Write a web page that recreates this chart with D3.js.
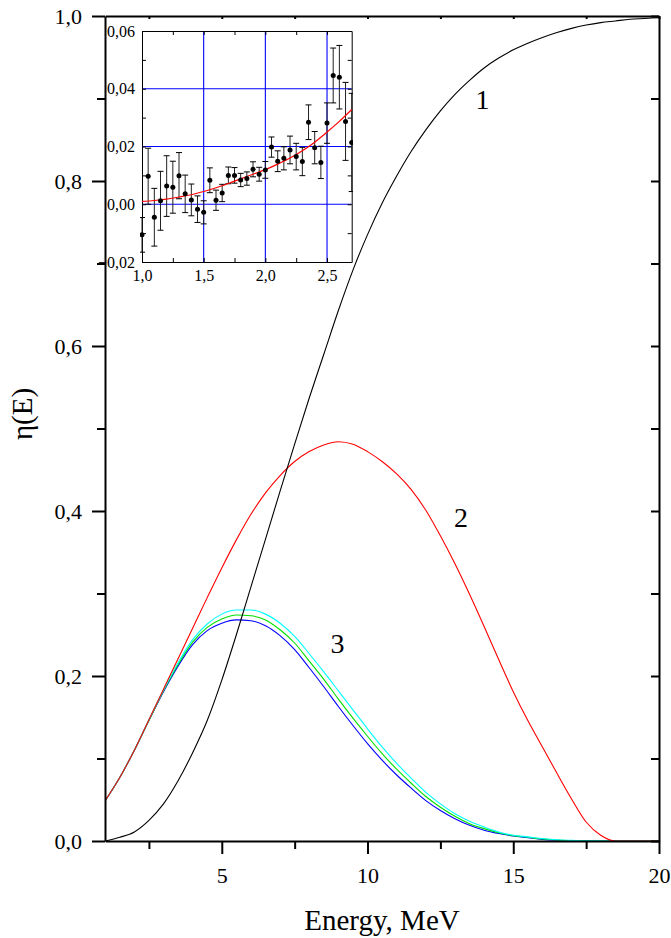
<!DOCTYPE html>
<html>
<head>
<meta charset="utf-8">
<script src="https://cdn.jsdelivr.net/npm/d3@7"></script>
<style>
  body { margin: 0; background: #fff; }
  text { font-family: "Liberation Serif", "Times New Roman", serif; fill: #000; }
</style>
</head>
<body>
<script>
// main chart data
var energy = [1, 1.5, 2, 2.5, 3, 3.5, 4, 4.5, 5, 5.5, 6, 6.5, 7, 7.5, 8, 8.5, 9, 9.5, 10, 10.5,
              11, 11.5, 12, 12.5, 13, 13.5, 14, 14.5, 15, 15.5, 16, 16.5, 17, 17.5, 18, 18.5, 19, 19.5, 20];
var curve1 = [0.000, 0.0045, 0.011, 0.025, 0.045, 0.073, 0.107, 0.146, 0.195, 0.250, 0.308, 0.366, 0.424, 0.481,
              0.537, 0.590, 0.643, 0.692, 0.735, 0.773, 0.806, 0.836, 0.862, 0.885, 0.905, 0.922, 0.937, 0.949,
              0.959, 0.967, 0.974, 0.980, 0.985, 0.989, 0.992, 0.994, 0.996, 0.997, 0.998];
var curve2 = [0.049, 0.077, 0.110, 0.147, 0.184, 0.221, 0.258, 0.295, 0.331, 0.365, 0.396, 0.422, 0.443, 0.460,
              0.472, 0.480, 0.484, 0.481, 0.472, 0.460, 0.445, 0.426, 0.401, 0.370, 0.336, 0.299, 0.260, 0.220,
              0.181, 0.146, 0.114, 0.082, 0.051, 0.023, 0.007, 0.000, 0.000, 0.000, 0.000];
var curve3blue = [0.049, 0.077, 0.110, 0.146, 0.181, 0.212, 0.238, 0.255, 0.264, 0.268, 0.267, 0.261, 0.249, 0.232,
              0.210, 0.187, 0.163, 0.140, 0.118, 0.098, 0.080, 0.064, 0.049, 0.037, 0.027, 0.019, 0.013, 0.009,
              0.006, 0.004, 0.002, 0.001, 0.0005, 0.0002, 0, 0, 0, 0, 0];
var curve3green = [0.049, 0.077, 0.110, 0.146, 0.182, 0.214, 0.241, 0.259, 0.269, 0.274, 0.273, 0.268, 0.256, 0.240,
              0.218, 0.196, 0.172, 0.149, 0.127, 0.106, 0.087, 0.070, 0.054, 0.041, 0.030, 0.021, 0.015, 0.010,
              0.0065, 0.0045, 0.0025, 0.0012, 0.0006, 0.0002, 0, 0, 0, 0, 0];
var curve3cyan = [0.049, 0.077, 0.110, 0.147, 0.183, 0.216, 0.244, 0.263, 0.275, 0.280, 0.280, 0.275, 0.264, 0.248,
              0.227, 0.205, 0.182, 0.159, 0.136, 0.114, 0.094, 0.076, 0.059, 0.045, 0.033, 0.024, 0.017, 0.011,
              0.007, 0.005, 0.003, 0.0015, 0.0007, 0.0003, 0, 0, 0, 0, 0];
var xTicks = [5, 10, 15, 20];
var yTicks = [0, 0.2, 0.4, 0.6, 0.8, 1.0];

// inset data
var ptE   = [1.00, 1.05, 1.10, 1.15, 1.20, 1.25, 1.30, 1.35, 1.40, 1.45, 1.50, 1.55, 1.60, 1.65, 1.70, 1.75, 1.80, 1.85,
             1.90, 1.95, 2.00, 2.05, 2.10, 2.15, 2.20, 2.25, 2.30, 2.35, 2.40, 2.45, 2.50, 2.55, 2.60, 2.65, 2.70];
var ptVal = [-0.0106, 0.0097, -0.0045, 0.0012, 0.0063, 0.0059, 0.0099, 0.0036, 0.0015, -0.0017, -0.0028, 0.0083,
             0.0014, 0.0039, 0.0100, 0.0100, 0.0084, 0.0089, 0.0121, 0.0104, 0.0119, 0.0198, 0.0149, 0.0159, 0.0188,
             0.0165, 0.0148, 0.0284, 0.0196, 0.0145, 0.0281, 0.0446, 0.0440, 0.0287, 0.0214];
var ptErr = [0.006, 0.0097, 0.010, 0.0102, 0.0105, 0.009, 0.008, 0.0065, 0.0055, 0.0046, 0.004, 0.0043, 0.0035,
             0.003, 0.0029, 0.0027, 0.0023, 0.0023, 0.0026, 0.0024, 0.0029, 0.0035, 0.0036, 0.004, 0.0048, 0.0046,
             0.0049, 0.006, 0.0056, 0.0056, 0.007, 0.0095, 0.011, 0.0135, 0.017];
var fitE   = [1.0, 1.1, 1.2, 1.3, 1.4, 1.5, 1.6, 1.7, 1.8, 1.9, 2.0, 2.1, 2.2, 2.3, 2.4, 2.5, 2.6, 2.7];
var fitVal = [0.0010, 0.0013, 0.0018, 0.0025, 0.0033, 0.0044, 0.0057, 0.0072, 0.0088, 0.0104, 0.0120, 0.0139,
              0.0160, 0.0185, 0.0215, 0.0250, 0.0287, 0.0328];
var insetXTicks = [1.0, 1.5, 2.0, 2.5];
var insetYTicks = [-0.02, 0.00, 0.02, 0.04, 0.06];

var serif = "'Liberation Serif', 'Times New Roman', serif";
var comma = function(f) { return function(d) { return f(d).replace(".", ","); }; };

var svg = d3.select("body").append("svg")
    .attr("width", 671)
    .attr("height", 938);

var x = d3.scaleLinear().domain([1, 20]).range([105.2, 659]);
var y = d3.scaleLinear().domain([0, 1]).range([841, 16]);

svg.append("clipPath").attr("id", "plotclip")
  .append("rect").attr("x", 105).attr("y", 10).attr("width", 555).attr("height", 832);

// curves
var line = d3.line()
    .x(function(d) { return x(d[0]); })
    .y(function(d) { return y(d[1]); })
    .curve(d3.curveMonotoneX);

var curves = [
  { v: curve3blue, c: "#0000ff" },
  { v: curve3green, c: "#00e000" },
  { v: curve3cyan, c: "#00ffff" },
  { v: curve2, c: "#ff0000" },
  { v: curve1, c: "#000000" }
];
var gc = svg.append("g").attr("clip-path", "url(#plotclip)");
curves.forEach(function(s) {
  gc.append("path")
    .datum(d3.zip(energy, s.v))
    .attr("d", line)
    .attr("fill", "none")
    .attr("stroke", s.c)
    .attr("stroke-width", 1.1);
});

// axes
function styleAxis(g, w) {
  g.attr("font-family", serif);
  g.selectAll("path").attr("stroke-width", w);
  g.selectAll("line").attr("stroke-width", w);
  g.selectAll("text").style("font-family", serif);
}
var minorY = [0.1, 0.3, 0.5, 0.7, 0.9];
var minorX = [2.5, 7.5, 12.5, 17.5];

var gl = svg.append("g").attr("transform", "translate(105,0)")
  .call(d3.axisLeft(y).tickValues(yTicks).tickSize(13).tickSizeOuter(0).tickPadding(10).tickFormat(comma(d3.format(".1f"))));
gl.call(styleAxis, 2);
gl.selectAll("text").style("font-size", "22px");
svg.append("g").attr("transform", "translate(105,0)")
  .call(d3.axisLeft(y).tickValues(minorY).tickSize(8).tickFormat(""))
  .call(styleAxis, 2).select(".domain").remove();

var gb = svg.append("g").attr("transform", "translate(0,841)")
  .call(d3.axisBottom(x).tickValues(xTicks).tickSize(13).tickSizeOuter(0).tickPadding(13).tickFormat(d3.format("d")));
gb.call(styleAxis, 2);
gb.selectAll("text").style("font-size", "22px");
svg.append("g").attr("transform", "translate(0,841)")
  .call(d3.axisBottom(x).tickValues(minorX).tickSize(8).tickFormat(""))
  .call(styleAxis, 2).select(".domain").remove();

// right and top (inward ticks)
svg.append("g").attr("transform", "translate(659,0)")
  .call(d3.axisRight(y).tickValues(yTicks.concat(minorY)).tickSize(-8).tickSizeOuter(0).tickFormat(""))
  .call(styleAxis, 2);
svg.append("g").attr("transform", "translate(0,16)")
  .call(d3.axisTop(x).tickValues(xTicks.concat(minorX)).tickSize(-3).tickSizeOuter(0).tickFormat(""))
  .call(styleAxis, 2);

// curve labels
svg.append("text").attr("x", 482.5).attr("y", 109).attr("text-anchor", "middle").style("font-size", "28px").text("1");
svg.append("text").attr("x", 461).attr("y", 527).attr("text-anchor", "middle").style("font-size", "28px").text("2");
svg.append("text").attr("x", 337.5).attr("y", 653).attr("text-anchor", "middle").style("font-size", "28px").text("3");

// axis titles
svg.append("text").attr("x", 382).attr("y", 930).attr("text-anchor", "middle").style("font-size", "29px").text("Energy, MeV");
svg.append("text").attr("transform", "translate(31.5,414) rotate(-90)").attr("text-anchor", "middle")
  .style("font-size", "29px").text("η(E)");

// ---- inset ----
var xi = d3.scaleLinear().domain([1.0, 2.7]).range([142, 351.7]);
var yi = d3.scaleLinear().domain([-0.02, 0.06]).range([262, 31]);

svg.append("rect").attr("x", 142).attr("y", 31).attr("width", 209.7).attr("height", 231).attr("fill", "#fff");
svg.append("clipPath").attr("id", "insetclip")
  .append("rect").attr("x", 140).attr("y", 31).attr("width", 213).attr("height", 231);

var ins = svg.append("g");
// grid
ins.selectAll(".gx").data([1.5, 2.0, 2.5]).enter().append("line")
  .attr("x1", function(d) { return xi(d); }).attr("x2", function(d) { return xi(d); })
  .attr("y1", 31).attr("y2", 262).attr("stroke", "#0000ff").attr("stroke-width", 1.1);
ins.selectAll(".gy").data([0.00, 0.02, 0.04]).enter().append("line")
  .attr("y1", function(d) { return yi(d); }).attr("y2", function(d) { return yi(d); })
  .attr("x1", 142).attr("x2", 351.7).attr("stroke", "#0000ff").attr("stroke-width", 1.1);

var minorXi = [1.25, 1.75, 2.25];
var minorYi = [-0.01, 0.01, 0.03, 0.05];
var gil = ins.append("g").attr("transform", "translate(142,0)")
  .call(d3.axisLeft(yi).tickValues(insetYTicks.concat(minorYi)).tickSize(-4).tickSizeOuter(0).tickPadding(7)
    .tickFormat(function(d) { return insetYTicks.indexOf(d) >= 0 ? comma(d3.format(".2f"))(d) : ""; }))
  .call(styleAxis, 1);
gil.selectAll("text").style("font-size", "16px");
var gib = ins.append("g").attr("transform", "translate(0,262)")
  .call(d3.axisBottom(xi).tickValues(insetXTicks.concat(minorXi)).tickSize(-4).tickSizeOuter(0).tickPadding(8)
    .tickFormat(function(d) { return insetXTicks.indexOf(d) >= 0 ? comma(d3.format(".1f"))(d) : ""; }))
  .call(styleAxis, 1);
gib.selectAll("text").style("font-size", "16px");
ins.append("g").attr("transform", "translate(351.7,0)")
  .call(d3.axisRight(yi).tickValues(insetYTicks.concat(minorYi)).tickSize(-4).tickSizeOuter(0).tickFormat(""));
ins.append("g").attr("transform", "translate(0,31)")
  .call(d3.axisTop(xi).tickValues(insetXTicks.concat(minorXi)).tickSize(-4).tickSizeOuter(0).tickFormat(""));

var gd = ins.append("g").attr("clip-path", "url(#insetclip)");
var pts = d3.range(ptE.length).map(function(i) { return { e: ptE[i], v: ptVal[i], s: ptErr[i] }; });
gd.selectAll(".eb").data(pts).enter().append("line")
  .attr("x1", function(d) { return xi(d.e); }).attr("x2", function(d) { return xi(d.e); })
  .attr("y1", function(d) { return yi(d.v - d.s); }).attr("y2", function(d) { return yi(d.v + d.s); })
  .attr("stroke", "#222").attr("stroke-width", 1);
[-1, 1].forEach(function(sg) {
  gd.selectAll(".cap" + sg).data(pts).enter().append("line")
    .attr("x1", function(d) { return xi(d.e) - 3; }).attr("x2", function(d) { return xi(d.e) + 3; })
    .attr("y1", function(d) { return yi(d.v + sg * d.s); }).attr("y2", function(d) { return yi(d.v + sg * d.s); })
    .attr("stroke", "#000").attr("stroke-width", 1);
});
gd.append("path")
  .datum(d3.zip(fitE, fitVal))
  .attr("d", d3.line().x(function(d) { return xi(d[0]); }).y(function(d) { return yi(d[1]); }).curve(d3.curveMonotoneX))
  .attr("fill", "none").attr("stroke", "#ff0000").attr("stroke-width", 1.2);
gd.selectAll("circle").data(pts).enter().append("circle")
  .attr("cx", function(d) { return xi(d.e); }).attr("cy", function(d) { return yi(d.v); })
  .attr("r", 2.5).attr("fill", "#000");
</script>
</body>
</html>
